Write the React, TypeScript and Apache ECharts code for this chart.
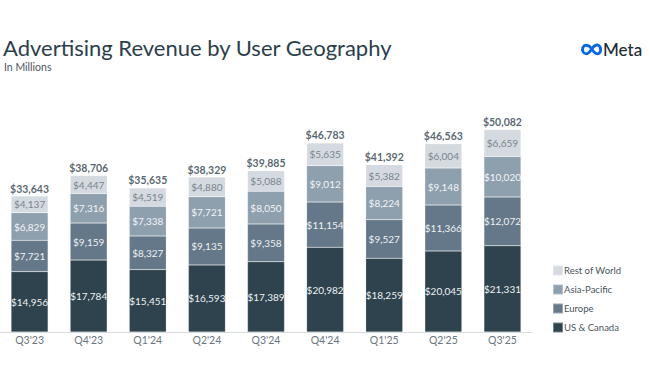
import React, { useEffect, useRef } from "react";
import * as echarts from "echarts";

const categories = ["Q3'23", "Q4'23", "Q1'24", "Q2'24", "Q3'24", "Q4'24", "Q1'25", "Q2'25", "Q3'25"];
const usCanada = [14956, 17784, 15451, 16593, 17389, 20982, 18259, 20045, 21331];
const europe = [7721, 9159, 8327, 9135, 9358, 11154, 9527, 11366, 12072];
const asiaPacific = [6829, 7316, 7338, 7721, 8050, 9012, 8224, 9148, 10020];
const restOfWorld = [4137, 4447, 4519, 4880, 5088, 5635, 5382, 6004, 6659];
const totals = [33643, 38706, 35635, 38329, 39885, 46783, 41392, 46563, 50082];

const FONT = "Lato";
const fmt = (v: number) => "$" + v.toLocaleString("en-US");

const infinityPath =
  "M10 5 C7.5 0.5 3.2 0 1.8 3 C0.6 5.8 2.2 9 4.6 9 C7 9 8.6 5.8 10 4.2 C11.8 1.8 13.6 0.5 15.4 1 C18.2 1.8 18.6 6.5 16.6 8.3 C14.2 10.3 11.8 7.5 10 5 Z";

export default function App() {
  const ref = useRef<HTMLDivElement>(null);
  useEffect(() => {
    if (!ref.current) return;
    try {
      echarts.graphic.registerShape("logo", echarts.graphic.extendPath(infinityPath, {}));
    } catch (e) {}
    const chart = echarts.init(ref.current, null, { renderer: "svg" });
    const segLabel = (color: string) => ({
      show: true,
      position: "inside" as const,
      color,
      fontFamily: FONT,
      fontSize: 10,
      formatter: (p: any) => fmt(p.value),
    });
    const mk = (name: string, data: number[], color: string, labelColor: string) => ({
      name,
      type: "bar" as const,
      stack: "total",
      data,
      barWidth: 37,
      itemStyle: { color, borderColor: "rgba(255,255,255,0.35)", borderWidth: 0.5 },
      label: segLabel(labelColor),
      emphasis: { disabled: true },
    });
    chart.setOption({
      animation: false,
      textStyle: { fontFamily: FONT },
      title: [
        {
          text: "Advertising Revenue by User Geography",
          left: 3,
          top: 36,
          padding: 0,
          textStyle: { fontFamily: FONT, fontSize: 22, fontWeight: "normal", color: "#2c3e4c" },
        },
        {
          text: "In Millions",
          left: 4,
          top: 61,
          padding: 0,
          textStyle: { fontFamily: FONT, fontSize: 10.5, fontWeight: "normal", color: "#4a5560" },
        },
      ],
      legend: {
        orient: "vertical",
        left: 552,
        top: 264.5,
        padding: 0,
        itemWidth: 10,
        itemHeight: 10,
        itemGap: 7,
        icon: "rect",
        data: ["Rest of World", "Asia-Pacific", "Europe", "US & Canada"],
        textStyle: { fontFamily: FONT, fontSize: 9.5, color: "#4a5560", padding: [0, 0, 0, -4] },
        selectedMode: false,
      },
      grid: { left: 0, right: 118, top: 89.5, bottom: 58 },
      xAxis: {
        type: "category",
        data: categories,
        axisLine: { lineStyle: { color: "#d6dadd", width: 1 } },
        axisTick: { show: false },
        axisLabel: { color: "#6b7680", fontFamily: FONT, fontSize: 10.5, margin: 2 },
      },
      yAxis: { type: "value", min: 0, max: 60000, show: false, splitLine: { show: false } },
      series: [
        mk("US & Canada", usCanada, "#2f434e", "#eef1f3"),
        mk("Europe", europe, "#65788a", "#eef1f3"),
        mk("Asia-Pacific", asiaPacific, "#8e9fae", "#f3f5f7"),
        mk("Rest of World", restOfWorld, "#d4dadf", "#7a858f"),
        {
          name: "Total",
          type: "scatter",
          data: totals,
          symbolSize: 0,
          label: {
            show: true,
            position: "top",
            distance: 2,
            color: "#2c3e4c",
            fontFamily: FONT,
            fontSize: 10.5,
            fontWeight: "bold",
            formatter: (p: any) => fmt(p.value),
          },
          emphasis: { disabled: true },
          z: 5,
        },
      ],
      graphic: [
        {
          type: "logo",
          x: 581,
          y: 44,
          scaleX: 1.1,
          scaleY: 1.1,
          style: { fill: "none", stroke: "#0668e1", lineWidth: 2.6 },
        },
        {
          type: "text",
          x: 603,
          y: 49.5,
          style: {
            text: "Meta",
            fontFamily: FONT,
            fontSize: 17,
            fontWeight: 500,
            fill: "#1c2b33",
            textVerticalAlign: "middle",
          },
        },
      ],
    });
    return () => chart.dispose();
  }, []);
  return <div ref={ref} style={{ width: 650, height: 390, position: "absolute", left: 0, top: 0 }} />;
}
